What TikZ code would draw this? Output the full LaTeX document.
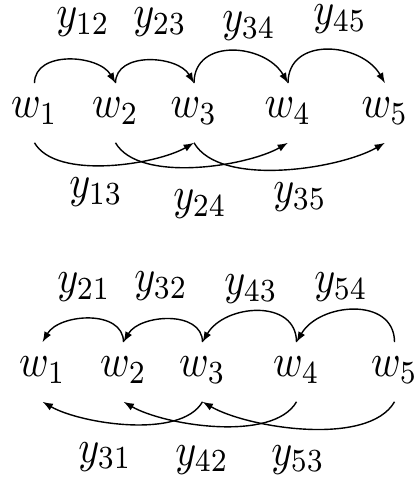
\documentclass[tikz,border=0pt]{standalone}
\usepackage{graphicx}
\usetikzlibrary{arrows.meta}
\newcommand{\tall}[1]{\scalebox{1}[1.15]{$#1$}}

\begin{document}
\begin{tikzpicture}[x=0.25pt, y=0.25pt,
        word/.style={anchor=base, inner sep=3.5pt, text height=5pt, text depth=2.5pt},
        lbl/.style={anchor=base, inner sep=0pt},
        conn/.style={-{Latex[length=2.6pt,width=1.9pt]}, line width=0.35pt},
        fwd/.style={conn, out=90, in=120, looseness=1.05},
        fwdlow/.style={conn, out=-60, in=-150, looseness=0.7},
        back/.style={conn, out=90, in=60, looseness=1.05},
        backlow/.style={conn, out=-120, in=-30, looseness=0.7}]
      \useasboundingbox (0,0) rectangle (419,479);
      % forward chain
      \node[word] (tw1) at (34.5,361) {\tall{w_1}};
      \node[word] (tw2) at (115.5,361) {\tall{w_2}};
      \node[word] (tw3) at (194,361) {\tall{w_3}};
      \node[word] (tw4) at (288,361) {\tall{w_4}};
      \node[word] (tw5) at (385,361) {\tall{w_5}};
      \node[lbl] (ly12) at (83,451) {\tall{y_{12}}};
      \node[lbl] (ly23) at (160,451) {\tall{y_{23}}};
      \node[lbl] (ly34) at (249,447) {\tall{y_{34}}};
      \node[lbl] (ly45) at (340,454) {\tall{y_{45}}};
      \node[lbl] (ly13) at (96,281) {\tall{y_{13}}};
      \node[lbl] (ly24) at (200,269) {\tall{y_{24}}};
      \node[lbl] (ly35) at (300,276) {\tall{y_{35}}};
      \draw[fwd] (tw1.north) to (tw2.north);
      \draw[fwd] (tw2.north) to (tw3.north);
      \draw[fwd, looseness=1.25] (tw3.north) to (tw4.north);
      \draw[fwd, looseness=1.25] (tw4.north) to (tw5.north);
      \draw[fwdlow] (tw1.south) to (tw3.south);
      \draw[fwdlow] (tw2.south) to (tw4.south);
      \draw[fwdlow] (tw3.south) to (tw5.south);
      % backward chain
      \node[word] (bw1) at (42.5,102) {\tall{w_1}};
      \node[word] (bw2) at (123.5,102) {\tall{w_2}};
      \node[word] (bw3) at (202.5,102) {\tall{w_3}};
      \node[word] (bw4) at (296.5,102) {\tall{w_4}};
      \node[word] (bw5) at (394.5,102) {\tall{w_5}};
      \node[lbl] (ly21) at (84,186) {\tall{y_{21}}};
      \node[lbl] (ly32) at (161,187) {\tall{y_{32}}};
      \node[lbl] (ly43) at (251,184) {\tall{y_{43}}};
      \node[lbl] (ly54) at (341,186) {\tall{y_{54}}};
      \node[lbl] (ly31) at (105,17) {\tall{y_{31}}};
      \node[lbl] (ly42) at (202,14) {\tall{y_{42}}};
      \node[lbl] (ly53) at (298,14) {\tall{y_{53}}};
      \draw[back] (bw2.north) to (bw1.north);
      \draw[back] (bw3.north) to (bw2.north);
      \draw[back, looseness=1.2] (bw4.north) to (bw3.north);
      \draw[back, looseness=1.2] (bw5.north) to (bw4.north);
      \draw[backlow] (bw3.south) to (bw1.south);
      \draw[backlow] (bw4.south) to (bw2.south);
      \draw[backlow] (bw5.south) to (bw3.south);
\end{tikzpicture}
\end{document}
